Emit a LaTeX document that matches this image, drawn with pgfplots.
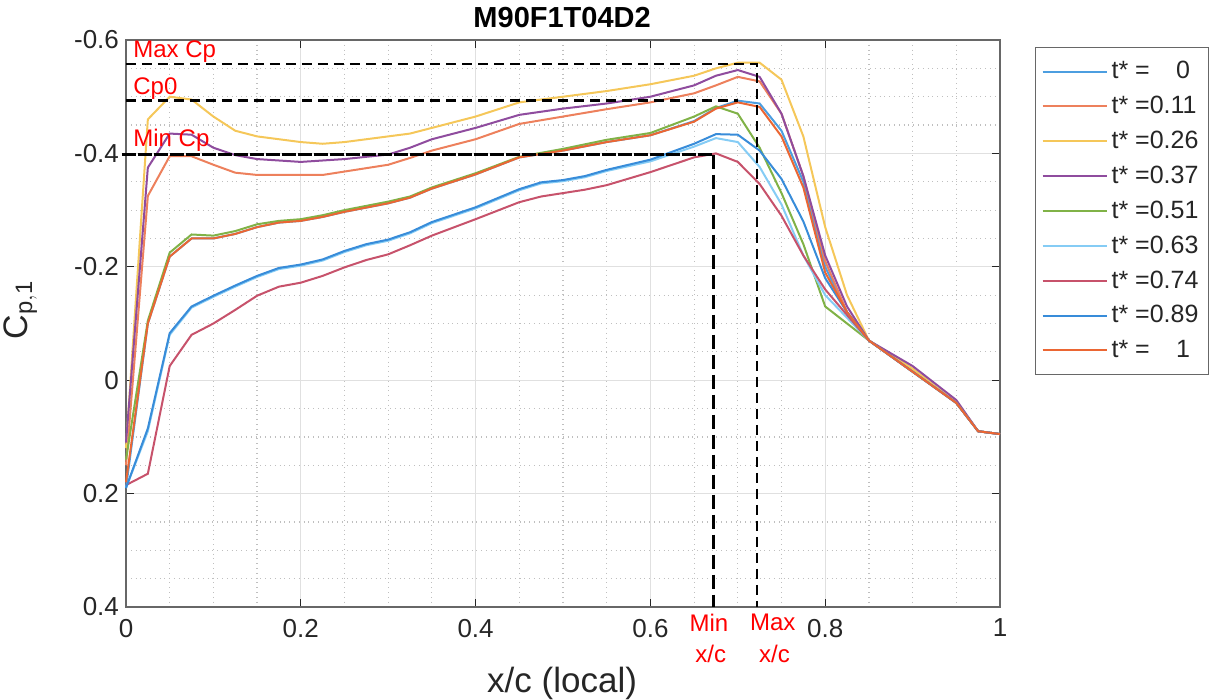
\documentclass[border=0pt]{standalone}
\usepackage{fontspec}
\setmainfont{Liberation Sans}
\usepackage{pgfplots}
\pgfplotsset{compat=1.18}
\definecolor{cA}{rgb}{0.30,0.62,0.88}
\definecolor{cB}{rgb}{0.93,0.50,0.36}
\definecolor{cC}{rgb}{0.96,0.78,0.35}
\definecolor{cD}{rgb}{0.56,0.30,0.62}
\definecolor{cE}{rgb}{0.50,0.70,0.28}
\definecolor{cF}{rgb}{0.52,0.80,0.96}
\definecolor{cG}{rgb}{0.78,0.32,0.42}
\definecolor{cH}{rgb}{0.22,0.55,0.85}
\definecolor{cI}{rgb}{0.92,0.40,0.20}
\definecolor{axgray}{rgb}{0.15,0.15,0.15}
\begin{document}
\begin{tikzpicture}
\useasboundingbox (-63pt,-46.5pt) rectangle (545.5pt,303.5pt);
\begin{axis}[
  at={(0,0)}, anchor=south west,
  width=437pt, height=283.5pt, scale only axis,
  xmin=0, xmax=1, ymin=-0.6, ymax=0.4, y dir=reverse,
  xtick={0,0.2,0.4,0.6,0.8,1}, xticklabels={0,0.2,0.4,0.6,0.8,1},
  ytick={-0.6,-0.4,-0.2,0,0.2,0.4}, yticklabels={-0.6,-0.4,-0.2,0,0.2,0.4},
  minor tick num=3,
  grid=both,
  major grid style={draw=black!12, line width=0.5pt},
  minor grid style={draw=black!25, dotted, line width=0.6pt},
  axis line style={draw=axgray!70, line width=0.6pt},
  tick style={draw=axgray, line width=0.6pt},
  major tick length=4pt, minor tick length=0pt,
  tick align=inside,
  ticklabel style={font=\fontsize{13}{15}\selectfont, text=axgray},
  xticklabel shift=2.5pt,
  clip=false,
  legend style={at={(1.040,0.988)}, anchor=north west, draw=axgray!70, line width=0.6pt,
    font=\fontsize{12.5}{14}\selectfont, text=axgray, row sep=3.2pt,
    inner xsep=3pt, inner ysep=5pt, cells={anchor=west}},
  legend image code/.code={\draw[#1] (0pt,0pt) -- (32pt,0pt);},
  every axis plot/.append style={line width=1pt},
]
% t* = 0
\addplot[cA] coordinates {(0,0.19) (0.025,-0.10) (0.05,-0.218) (0.075,-0.25) (0.1,-0.25) (0.125,-0.258) (0.15,-0.27) (0.175,-0.278) (0.2,-0.281) (0.225,-0.288) (0.25,-0.297) (0.3,-0.312) (0.325,-0.322) (0.35,-0.338) (0.4,-0.363) (0.45,-0.393) (0.5,-0.405) (0.55,-0.42) (0.6,-0.432) (0.65,-0.457) (0.675,-0.48) (0.7,-0.493) (0.725,-0.488) (0.75,-0.44) (0.775,-0.35) (0.8,-0.2) (0.825,-0.12) (0.85,-0.07) (0.9,-0.015) (0.95,0.04) (0.975,0.09) (1,0.095)};
\addlegendentry{t* =\hspace{1.05em}0}
% t* = 0.11
\addplot[cB] coordinates {(0,0.15) (0.025,-0.325) (0.05,-0.395) (0.075,-0.395) (0.1,-0.38) (0.125,-0.366) (0.15,-0.362) (0.2,-0.362) (0.225,-0.362) (0.25,-0.368) (0.3,-0.38) (0.325,-0.392) (0.35,-0.405) (0.4,-0.425) (0.45,-0.452) (0.5,-0.465) (0.55,-0.478) (0.6,-0.49) (0.65,-0.506) (0.675,-0.52) (0.7,-0.535) (0.725,-0.527) (0.75,-0.47) (0.775,-0.36) (0.8,-0.21) (0.825,-0.12) (0.85,-0.07) (0.9,-0.02) (0.95,0.04) (0.975,0.09) (1,0.095)};
\addlegendentry{t* =0.11}
% t* = 0.26
\addplot[cC] coordinates {(0,0.12) (0.025,-0.46) (0.05,-0.50) (0.075,-0.495) (0.1,-0.465) (0.125,-0.44) (0.15,-0.43) (0.2,-0.42) (0.225,-0.417) (0.25,-0.42) (0.3,-0.43) (0.325,-0.435) (0.35,-0.445) (0.4,-0.465) (0.45,-0.49) (0.5,-0.50) (0.55,-0.51) (0.6,-0.522) (0.65,-0.537) (0.675,-0.55) (0.7,-0.56) (0.725,-0.56) (0.75,-0.53) (0.775,-0.43) (0.8,-0.27) (0.825,-0.15) (0.85,-0.07) (0.9,-0.02) (0.95,0.04) (0.975,0.09) (1,0.095)};
\addlegendentry{t* =0.26}
% t* = 0.37
\addplot[cD] coordinates {(0,0.11) (0.025,-0.375) (0.05,-0.435) (0.075,-0.433) (0.1,-0.41) (0.125,-0.397) (0.15,-0.39) (0.2,-0.385) (0.25,-0.39) (0.3,-0.398) (0.325,-0.41) (0.35,-0.425) (0.4,-0.445) (0.45,-0.468) (0.5,-0.479) (0.55,-0.488) (0.6,-0.5) (0.65,-0.52) (0.675,-0.537) (0.7,-0.547) (0.725,-0.535) (0.75,-0.47) (0.775,-0.36) (0.8,-0.22) (0.825,-0.13) (0.85,-0.07) (0.9,-0.025) (0.95,0.035) (0.975,0.09) (1,0.095)};
\addlegendentry{t* =0.37}
% t* = 0.51
\addplot[cE] coordinates {(0,0.14) (0.025,-0.105) (0.05,-0.225) (0.075,-0.257) (0.1,-0.255) (0.125,-0.263) (0.15,-0.275) (0.175,-0.281) (0.2,-0.284) (0.225,-0.291) (0.25,-0.30) (0.3,-0.315) (0.325,-0.324) (0.35,-0.34) (0.4,-0.365) (0.45,-0.394) (0.5,-0.408) (0.55,-0.424) (0.6,-0.436) (0.65,-0.465) (0.675,-0.483) (0.7,-0.47) (0.725,-0.41) (0.75,-0.33) (0.775,-0.24) (0.8,-0.13) (0.85,-0.07) (0.9,-0.015) (0.95,0.04) (0.975,0.09) (1,0.095)};
\addlegendentry{t* =0.51}
% t* = 0.63
\addplot[cF] coordinates {(0,0.19) (0.025,0.09) (0.05,-0.08) (0.075,-0.128) (0.1,-0.147) (0.125,-0.165) (0.15,-0.182) (0.175,-0.196) (0.2,-0.202) (0.225,-0.211) (0.25,-0.226) (0.275,-0.238) (0.3,-0.246) (0.325,-0.259) (0.35,-0.277) (0.4,-0.303) (0.45,-0.335) (0.475,-0.347) (0.5,-0.351) (0.525,-0.358) (0.55,-0.369) (0.6,-0.386) (0.65,-0.412) (0.675,-0.427) (0.7,-0.42) (0.725,-0.376) (0.75,-0.31) (0.775,-0.22) (0.8,-0.15) (0.85,-0.07) (0.9,-0.015) (0.95,0.04) (0.975,0.09) (1,0.095)};
\addlegendentry{t* =0.63}
% t* = 0.74
\addplot[cG] coordinates {(0,0.185) (0.025,0.165) (0.05,-0.025) (0.075,-0.08) (0.1,-0.10) (0.125,-0.124) (0.15,-0.149) (0.175,-0.165) (0.2,-0.172) (0.225,-0.184) (0.25,-0.199) (0.275,-0.212) (0.3,-0.222) (0.325,-0.238) (0.35,-0.255) (0.4,-0.284) (0.45,-0.314) (0.475,-0.324) (0.5,-0.33) (0.525,-0.336) (0.55,-0.344) (0.6,-0.367) (0.65,-0.393) (0.675,-0.40) (0.7,-0.385) (0.725,-0.346) (0.75,-0.29) (0.775,-0.22) (0.8,-0.16) (0.85,-0.07) (0.9,-0.015) (0.95,0.04) (0.975,0.09) (1,0.095)};
\addlegendentry{t* =0.74}
% t* = 0.89
\addplot[cH] coordinates {(0,0.19) (0.025,0.085) (0.05,-0.083) (0.075,-0.13) (0.1,-0.149) (0.125,-0.167) (0.15,-0.184) (0.175,-0.198) (0.2,-0.204) (0.225,-0.213) (0.25,-0.228) (0.275,-0.24) (0.3,-0.248) (0.325,-0.261) (0.35,-0.279) (0.4,-0.305) (0.45,-0.337) (0.475,-0.349) (0.5,-0.353) (0.525,-0.36) (0.55,-0.371) (0.6,-0.389) (0.65,-0.417) (0.675,-0.434) (0.7,-0.433) (0.725,-0.405) (0.75,-0.355) (0.775,-0.28) (0.8,-0.18) (0.825,-0.12) (0.85,-0.07) (0.9,-0.015) (0.95,0.04) (0.975,0.09) (1,0.095)};
\addlegendentry{t* =0.89}
% t* = 1
\addplot[cI] coordinates {(0,0.18) (0.025,-0.10) (0.05,-0.218) (0.075,-0.25) (0.1,-0.25) (0.125,-0.258) (0.15,-0.27) (0.175,-0.278) (0.2,-0.281) (0.225,-0.288) (0.25,-0.297) (0.3,-0.312) (0.325,-0.322) (0.35,-0.338) (0.4,-0.363) (0.45,-0.393) (0.5,-0.405) (0.55,-0.42) (0.6,-0.432) (0.65,-0.456) (0.675,-0.479) (0.7,-0.49) (0.725,-0.482) (0.75,-0.43) (0.775,-0.34) (0.8,-0.19) (0.825,-0.12) (0.85,-0.07) (0.9,-0.015) (0.95,0.04) (0.975,0.09) (1,0.095)};
\addlegendentry{t* =\hspace{1.05em}1}
% annotation lines
\addplot[forget plot, black, line width=1.3pt, dash pattern=on 5pt off 3pt] coordinates {(0,-0.558) (0.722,-0.558) (0.722,0.4)};
\addplot[forget plot, black, line width=1.3pt, dash pattern=on 5pt off 3pt] coordinates {(0,-0.493) (0.70,-0.493)};
\addplot[forget plot, black, line width=1.3pt, dash pattern=on 7pt off 1pt] coordinates {(-0.005,-0.398) (0.672,-0.398)};
\addplot[forget plot, black, line width=1.3pt, dash pattern=on 7pt off 3pt] coordinates {(0.672,-0.398) (0.672,0.4)};
% title and axis labels
\node[anchor=center, font=\fontsize{14.5}{16}\selectfont\bfseries, text=black, inner sep=0pt] at (axis description cs:0.499,1.039) {M90F1T04D2};
\node[anchor=center, font=\fontsize{17.5}{19}\selectfont, text=axgray, inner sep=0pt] at (axis description cs:0.499,-0.134) {x/c (local)};
\node[anchor=center, rotate=90, font=\fontsize{17}{19}\selectfont, text=axgray, inner sep=0pt] at (axis description cs:-0.121,0.524) {C$_{\mathrm{p,1}}$};
% annotation text
\node[anchor=west, text=red, font=\fontsize{12}{13}\selectfont, inner sep=0pt] at (axis cs:0.008,-0.579) {Max Cp};
\node[anchor=west, text=red, font=\fontsize{12}{13}\selectfont, inner sep=0pt] at (axis cs:0.008,-0.515) {Cp0};
\node[anchor=west, text=red, font=\fontsize{12}{13}\selectfont, inner sep=0pt] at (axis cs:0.008,-0.424) {Min Cp};
\node[text=red, font=\fontsize{12}{13}\selectfont, inner sep=0pt] at (axis cs:0.667,0.427) {Min};
\node[text=red, font=\fontsize{12}{13}\selectfont, inner sep=0pt] at (axis cs:0.669,0.483) {x/c};
\node[text=red, font=\fontsize{12}{13}\selectfont, inner sep=0pt] at (axis cs:0.740,0.427) {Max};
\node[text=red, font=\fontsize{12}{13}\selectfont, inner sep=0pt] at (axis cs:0.742,0.483) {x/c};
\end{axis}
\end{tikzpicture}
\end{document}
